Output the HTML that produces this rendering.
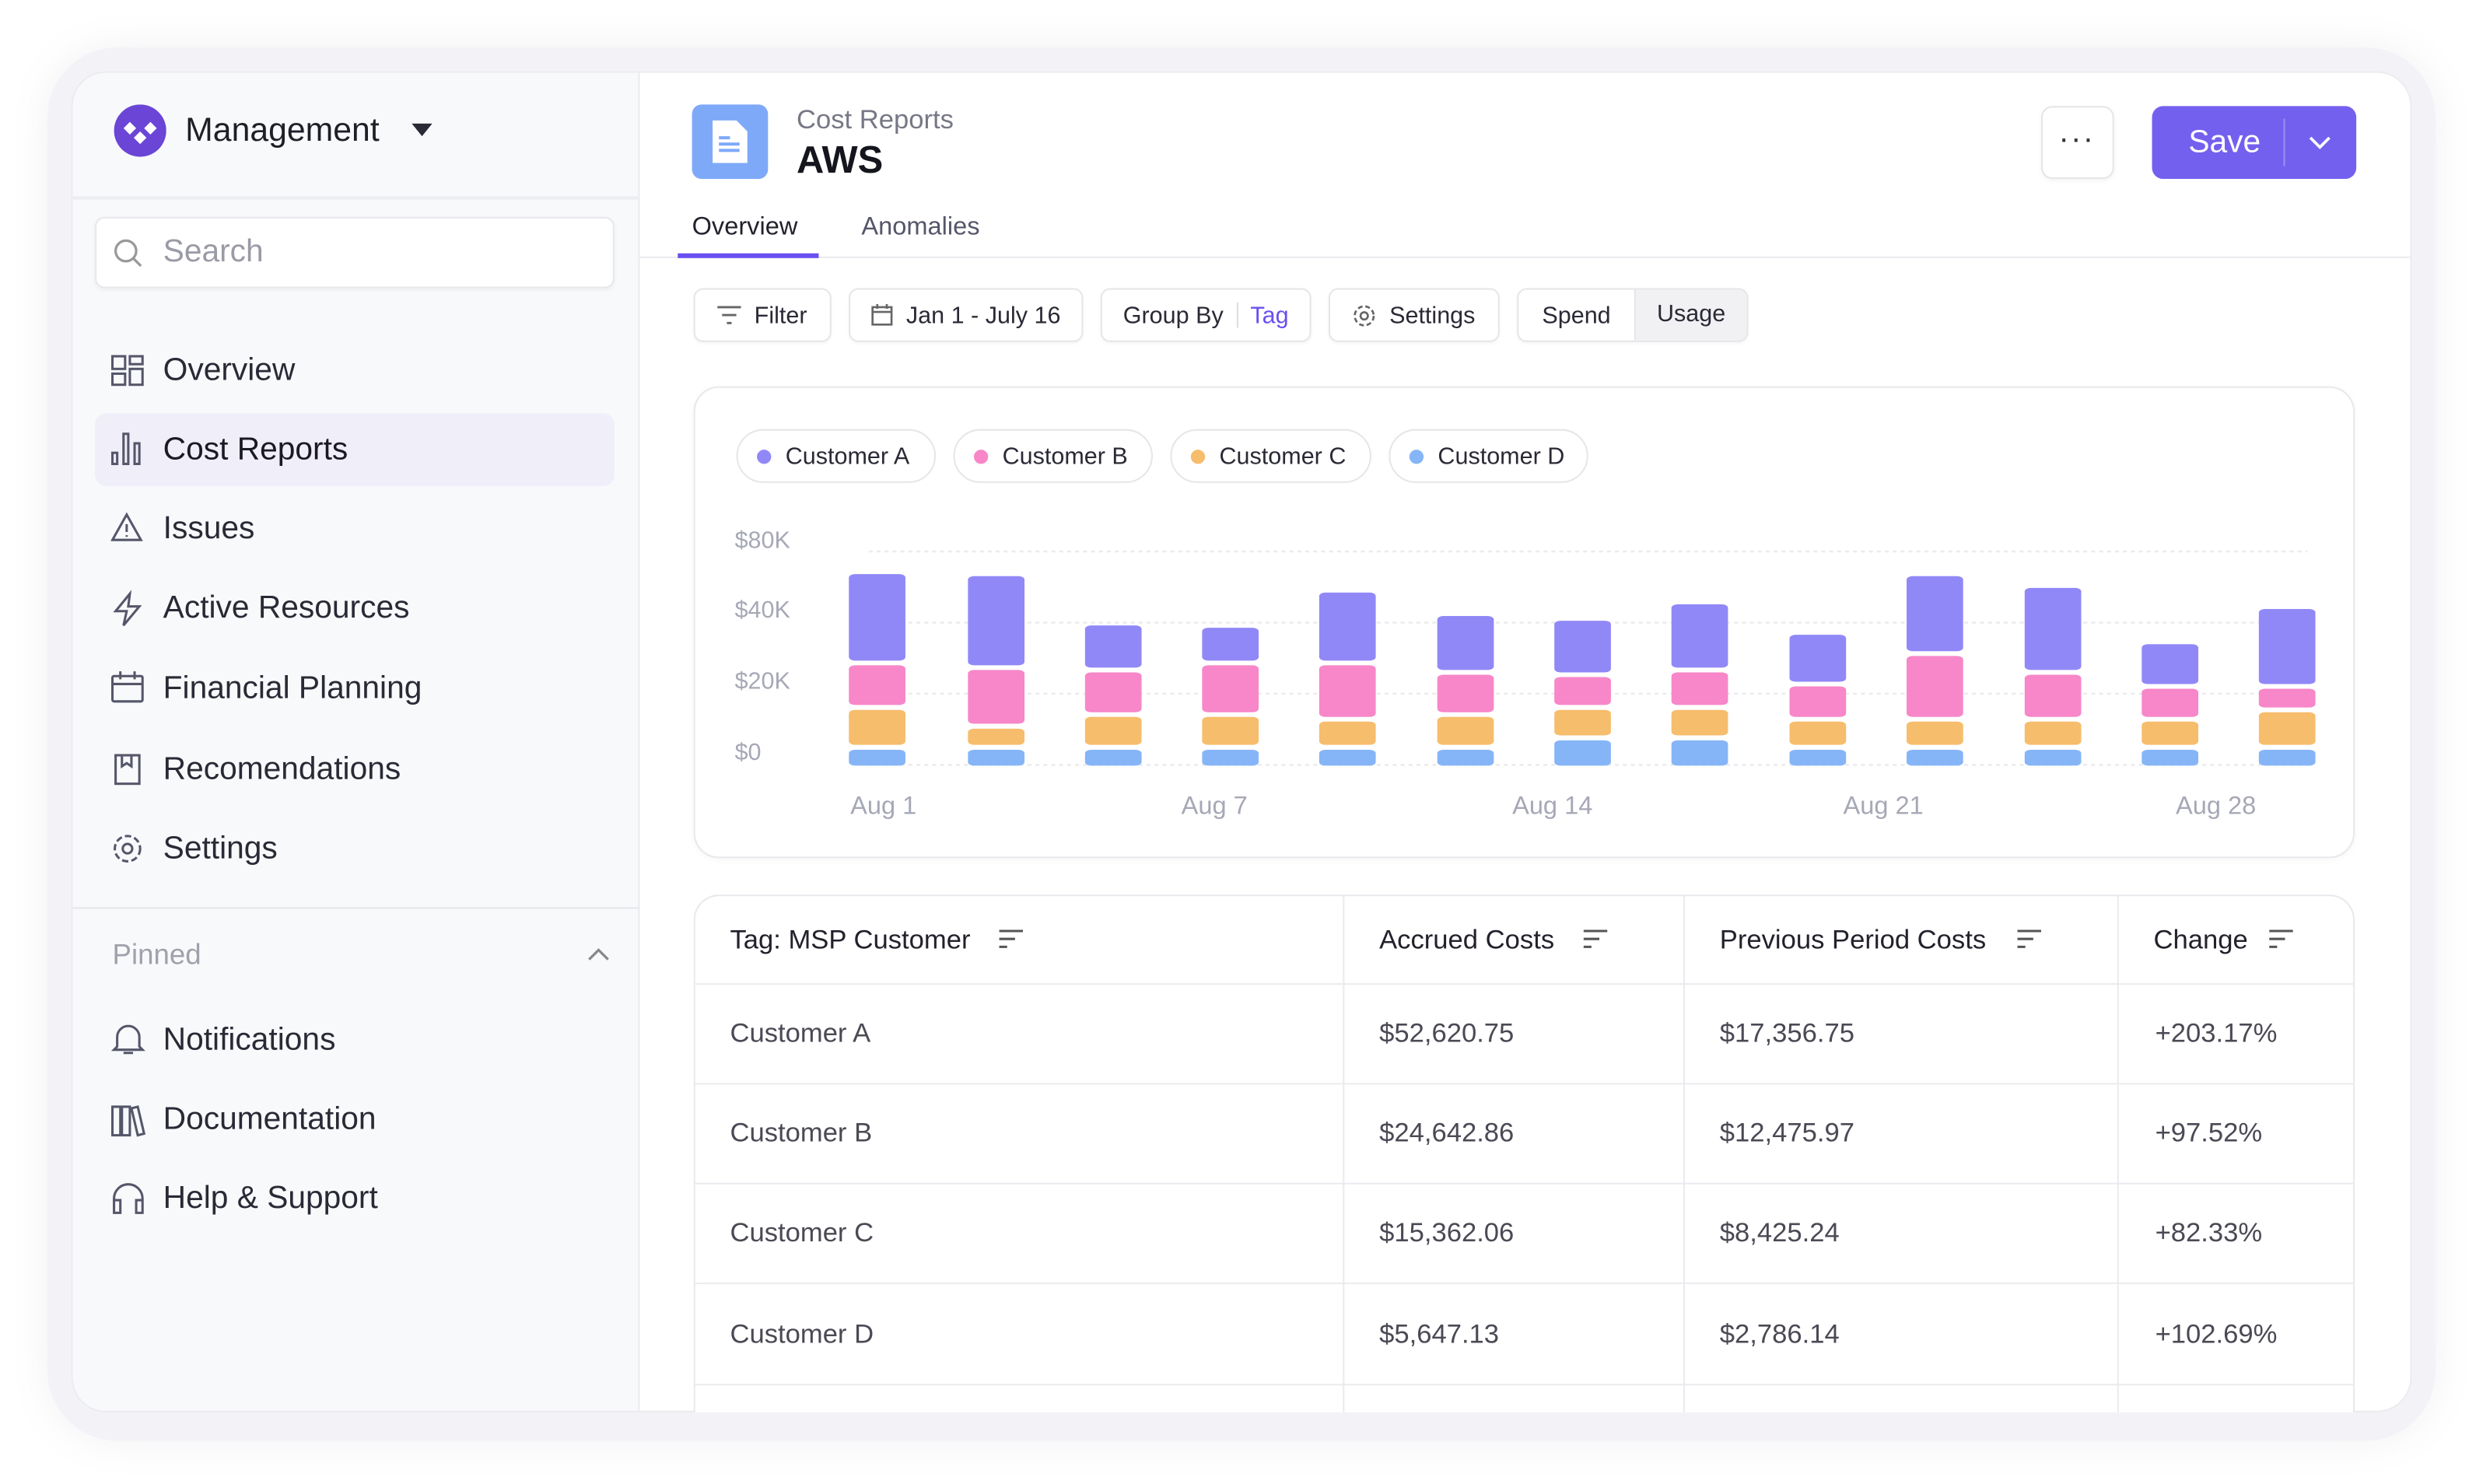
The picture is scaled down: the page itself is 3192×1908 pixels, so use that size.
<!DOCTYPE html>
<html><head><meta charset="utf-8">
<style>
*{box-sizing:border-box;margin:0;padding:0}
html,body{width:3192px;height:1908px;overflow:hidden;background:#fff;font-family:"Liberation Sans",sans-serif}
#w{position:absolute;left:0;top:0;width:1568px;height:937.3px;transform:scale(2.0357);transform-origin:0 0}
.a{position:absolute}
.t{position:absolute;white-space:nowrap;line-height:1}
.nav{font-size:20px;color:#2a2a36}
.btn{position:absolute;background:#fff;border:1px solid #e6e6ea;border-radius:6px;font-size:15px;color:#2a2a36;display:flex;align-items:center;justify-content:center;gap:8px;box-shadow:0 1px 2px rgba(0,0,0,.04)}
.pill{position:absolute;top:271px;height:34px;border:1px solid #e6e6ea;border-radius:17px;font-size:15px;color:#2a2a36;display:flex;align-items:center;padding-left:12px;gap:9px}
.dot{width:9px;height:9px;border-radius:50%}
.hd{font-size:17px;color:#22222c}
.td{font-size:17px;color:#4a4a55}
.ax{font-size:15px;color:#a6a8b6}
</style></head><body>
<div id="w">
<div class="a" style="left:30px;top:30px;width:1508px;height:880px;border-radius:44px;background:#f3f3f7;box-shadow:0 0 24px rgba(120,120,150,.10)"></div>
<div class="a" style="left:45px;top:45px;width:1478px;height:847px;border-radius:22px;background:#fff;overflow:hidden;border:1px solid #ececf0">
 <div class="a" style="left:0;top:0;width:358px;height:847px;background:#f8f9fb;border-right:1px solid #ebebef"></div>
 <div class="a" style="left:0;top:78px;width:358px;height:2px;background:#ededf1"></div>
 <div class="a" style="left:0;top:527px;width:358px;height:1px;background:#e6e6ea"></div>
 <div class="a" style="left:358px;top:116px;width:1120px;height:1px;background:#ebebef"></div>
</div>
<!-- sidebar -->
<svg class="a" style="left:72px;top:66px" width="33" height="33" viewBox="0 0 33 33"><circle cx="16.5" cy="16.5" r="16.5" fill="#6a45d6"/><path d="M10 11l4 4-4 4-4-4z M23 11l4 4-4 4-4-4z M16.5 17l4 4-4 4-4-4z" fill="#fff"/></svg>
<div class="t" style="left:117px;top:72px;font-size:21px;color:#1f1f28">Management</div>
<svg class="a" style="left:260px;top:78px" width="13" height="8"><path d="M0 0h13L6.5 8z" fill="#2a2a36"/></svg>
<div class="a" style="left:60px;top:137px;width:328px;height:45px;background:#fff;border:1px solid #e8e8ec;border-radius:6px;box-shadow:0 1px 3px rgba(0,0,0,.05)"></div>
<svg class="a" style="left:71px;top:150px" width="20" height="20" fill="none" stroke="#999" stroke-width="1.6"><circle cx="8.5" cy="8.5" r="6.5"/><path d="M13 13l5 5"/></svg>
<div class="t" style="left:103px;top:149px;font-size:20px;color:#9a9ba6">Search</div>
<div class="a" style="left:60px;top:261px;width:328px;height:46px;background:#efeef9;border-radius:7px"></div>
<svg class="a" style="left:70px;top:224px" width="22" height="340" fill="none" stroke="#55566a" stroke-width="1.5">
 <rect x="1" y="1" width="8" height="8"/><rect x="12" y="1" width="8" height="5"/><rect x="1" y="12" width="8" height="7"/><rect x="12" y="9" width="8" height="10"/>
 <rect x="1" y="62" width="3" height="7"/><rect x="8" y="50" width="3" height="19"/><rect x="15" y="56" width="3" height="13"/>
 <path d="M10 101l9 16H1z M10 107v5 M10 114v1"/>
 <path d="M12 151l-9 11h7l-2 9 10-12h-7z"/>
 <rect x="1" y="203" width="19" height="16" rx="1"/><path d="M1 208h19 M6 200v5 M15 200v5"/>
 <rect x="3" y="253" width="15" height="18"/><path d="M7 253v7l3-2 3 2v-7"/>
 <circle cx="10.5" cy="312" r="3"/><circle cx="10.5" cy="312" r="8" stroke-dasharray="4 2"/>
</svg>
<div class="t nav" style="left:103px;top:224px">Overview</div>
<div class="t nav" style="left:103px;top:274px;color:#1a1a24">Cost Reports</div>
<div class="t nav" style="left:103px;top:324px">Issues</div>
<div class="t nav" style="left:103px;top:374px">Active Resources</div>
<div class="t nav" style="left:103px;top:425px">Financial Planning</div>
<div class="t nav" style="left:103px;top:476px">Recomendations</div>
<div class="t nav" style="left:103px;top:526px">Settings</div>
<div class="t" style="left:71px;top:594px;font-size:18px;color:#a0a1ac">Pinned</div>
<svg class="a" style="left:371px;top:598px" width="14" height="9" fill="none" stroke="#888" stroke-width="1.6"><path d="M1 8l6-6 6 6"/></svg>
<svg class="a" style="left:70px;top:645px" width="22" height="125" fill="none" stroke="#55566a" stroke-width="1.5">
 <path d="M4 16V10a7 7 0 0114 0v6l2 2H2z M8 20h6"/>
 <path d="M1 54h5v18H1z M7 54h5v18H7z M13 55l4-1 4 17-4 1z"/>
 <path d="M2 118v-6a9 9 0 0118 0v6 M2 113h4v8H2z M16 113h4v8h-4z"/>
</svg>
<div class="t nav" style="left:103px;top:647px">Notifications</div>
<div class="t nav" style="left:103px;top:697px">Documentation</div>
<div class="t nav" style="left:103px;top:747px">Help &amp; Support</div>
<!-- header -->
<div class="a" style="left:437px;top:66px;width:48px;height:47px;background:#7ea9f9;border-radius:6px"></div>
<svg class="a" style="left:450px;top:76px" width="22" height="27"><path d="M0 0h15l7 7v20H0z" fill="#fff"/><path d="M4 11h7M4 15h13M4 19h13" stroke="#7ea9f9" stroke-width="2"/></svg>
<div class="t" style="left:503px;top:67px;font-size:17px;color:#777885">Cost Reports</div>
<div class="t" style="left:503px;top:90px;font-size:24px;font-weight:bold;color:#15151e">AWS</div>
<div class="a" style="left:1289px;top:67px;width:46px;height:46px;border:1px solid #e6e6ea;border-radius:7px;background:#fff;box-shadow:0 1px 3px rgba(0,0,0,.05)"></div>
<div class="t" style="left:1300px;top:78px;font-size:20px;color:#333;letter-spacing:1px">···</div>
<div class="a" style="left:1359px;top:67px;width:129px;height:46px;background:#7460ee;border-radius:7px"></div>
<div class="t" style="left:1382px;top:80px;font-size:20px;color:#fff">Save</div>
<div class="a" style="left:1442px;top:75px;width:1px;height:30px;background:#9d8ff4"></div>
<svg class="a" style="left:1458px;top:86px" width="14" height="9" fill="none" stroke="#fff" stroke-width="1.8"><path d="M1 1l6 6 6-6"/></svg>
<div class="t" style="left:437px;top:136px;font-size:16px;color:#22222c">Overview</div>
<div class="a" style="left:428px;top:160px;width:89px;height:3px;background:#6a4ff0"></div>
<div class="t" style="left:544px;top:136px;font-size:16px;color:#55566a">Anomalies</div>
<!-- toolbar -->
<div class="btn" style="left:438px;top:182px;width:87px;height:34px"><svg width="15" height="12" fill="none" stroke="#666" stroke-width="1.4"><path d="M0 1h15M3 6h9M6 11h3"/></svg>Filter</div>
<div class="btn" style="left:536px;top:182px;width:148px;height:34px"><svg width="14" height="14" fill="none" stroke="#666" stroke-width="1.3"><rect x="1" y="2" width="12" height="11"/><path d="M1 5h12M4 0v3M10 0v3"/></svg>Jan 1 - July 16</div>
<div class="btn" style="left:695px;top:182px;width:133px;height:34px">Group By <span style="width:1px;height:16px;background:#ddd"></span><span style="color:#6a4ff0">Tag</span></div>
<div class="btn" style="left:839px;top:182px;width:108px;height:34px"><svg width="15" height="15" fill="none" stroke="#666" stroke-width="1.3"><circle cx="7.5" cy="7.5" r="2.3"/><circle cx="7.5" cy="7.5" r="6" stroke-dasharray="3 1.8"/></svg>Settings</div>
<div class="btn" style="left:958px;top:182px;width:146px;height:34px;justify-content:flex-start;gap:0;overflow:hidden"><span style="width:74px;text-align:center">Spend</span><span style="width:72px;height:34px;line-height:34px;text-align:center;background:#f1f1f4;border-left:1px solid #e6e6ea">Usage</span></div>
<!-- chart card -->
<div class="a" style="left:438px;top:244px;width:1049px;height:298px;border:1px solid #e8e8ed;border-radius:16px;background:#fff;box-shadow:0 1px 4px rgba(0,0,0,.04)"></div>
<div class="pill" style="left:465px;width:126px"><span class="dot" style="background:#9188f7"></span>Customer A</div>
<div class="pill" style="left:602px;width:126px"><span class="dot" style="background:#f787c8"></span>Customer B</div>
<div class="pill" style="left:739px;width:127px"><span class="dot" style="background:#f6bd6c"></span>Customer C</div>
<div class="pill" style="left:877px;width:126px"><span class="dot" style="background:#86b5f7"></span>Customer D</div>
<div class="t ax" style="left:464px;top:334px">$80K</div>
<div class="t ax" style="left:464px;top:378px">$40K</div>
<div class="t ax" style="left:464px;top:423px">$20K</div>
<div class="t ax" style="left:464px;top:468px">$0</div>
<div class="t ax" style="left:537px;top:502px;font-size:16px">Aug 1</div>
<div class="t ax" style="left:746px;top:502px;font-size:16px">Aug 7</div>
<div class="t ax" style="left:955px;top:502px;font-size:16px">Aug 14</div>
<div class="t ax" style="left:1164px;top:502px;font-size:16px">Aug 21</div>
<div class="t ax" style="left:1374px;top:502px;font-size:16px">Aug 28</div>
<svg class="a" style="left:510.9px;top:314.4px" width="982.5" height="206.3" viewBox="0 0 1568 1253" preserveAspectRatio="none" id="ch"></svg>
<!-- table -->
<div class="a" style="left:438px;top:565px;width:1049px;height:327px;border:1px solid #e8e8ed;border-bottom:none;border-radius:16px 16px 0 0;background:#fff"></div>
<div class="a" style="left:439px;top:621px;width:1047px;height:1px;background:#ebebef"></div>
<div class="a" style="left:439px;top:684px;width:1047px;height:1px;background:#ebebef"></div>
<div class="a" style="left:439px;top:747px;width:1047px;height:1px;background:#ebebef"></div>
<div class="a" style="left:439px;top:810px;width:1047px;height:1px;background:#ebebef"></div>
<div class="a" style="left:439px;top:874px;width:1047px;height:1px;background:#ebebef"></div>
<div class="a" style="left:848px;top:566px;width:1px;height:326px;background:#ebebef"></div>
<div class="a" style="left:1063px;top:566px;width:1px;height:326px;background:#ebebef"></div>
<div class="a" style="left:1337px;top:566px;width:1px;height:326px;background:#ebebef"></div>
<div class="t hd" style="left:461px;top:585px">Tag: MSP Customer</div>
<div class="t hd" style="left:871px;top:585px">Accrued Costs</div>
<div class="t hd" style="left:1086px;top:585px">Previous Period Costs</div>
<div class="t hd" style="left:1360px;top:585px">Change</div>
<svg class="a" style="left:631px;top:587px" width="16" height="12" stroke="#555" stroke-width="1.5"><path d="M0 1h15M0 6h10M0 11h5"/></svg>
<svg class="a" style="left:1000px;top:587px" width="16" height="12" stroke="#555" stroke-width="1.5"><path d="M0 1h15M0 6h10M0 11h5"/></svg>
<svg class="a" style="left:1274px;top:587px" width="16" height="12" stroke="#555" stroke-width="1.5"><path d="M0 1h15M0 6h10M0 11h5"/></svg>
<svg class="a" style="left:1433px;top:587px" width="16" height="12" stroke="#555" stroke-width="1.5"><path d="M0 1h15M0 6h10M0 11h5"/></svg>
<div class="t td" style="left:461px;top:644px">Customer A</div><div class="t td" style="left:871px;top:644px">$52,620.75</div><div class="t td" style="left:1086px;top:644px">$17,356.75</div><div class="t td" style="left:1361px;top:644px">+203.17%</div>
<div class="t td" style="left:461px;top:707px">Customer B</div><div class="t td" style="left:871px;top:707px">$24,642.86</div><div class="t td" style="left:1086px;top:707px">$12,475.97</div><div class="t td" style="left:1361px;top:707px">+97.52%</div>
<div class="t td" style="left:461px;top:770px">Customer C</div><div class="t td" style="left:871px;top:770px">$15,362.06</div><div class="t td" style="left:1086px;top:770px">$8,425.24</div><div class="t td" style="left:1361px;top:770px">+82.33%</div>
<div class="t td" style="left:461px;top:834px">Customer D</div><div class="t td" style="left:871px;top:834px">$5,647.13</div><div class="t td" style="left:1086px;top:834px">$2,786.14</div><div class="t td" style="left:1361px;top:834px">+102.69%</div>
</div>
<script>
var xs=[40,160,278,396,514,633,751,869,988,1106,1225,1343,1461];
var d=[[295,627,645,797,816,950,969],[303,645,663,869,888,950,969],[492,654,672,825,843,950,969],[501,627,645,825,843,950,969],[366,627,645,843,861,950,969],[456,663,681,825,843,950,969],[474,672,690,797,816,914,933],[411,654,672,797,816,914,933],[528,708,726,843,861,950,969],[303,591,609,843,861,950,969],[348,663,681,843,861,950,969],[564,717,735,843,861,950,969],[429,717,735,807,825,950,969]];
var c=['#9188f7','#f787c8','#f6bd6c','#86b5f7'];
var s='';
[208,481,754,1027].forEach(function(y){s+='<line x1="60" x2="1510" y1="'+y+'" y2="'+y+'" stroke="#ececf0" stroke-width="8" stroke-dasharray="4 4"/>';});
d.forEach(function(b,i){var x=xs[i];var seg=[[b[0],b[1]],[b[2],b[3]],[b[4],b[5]],[b[6],1030]];
seg.forEach(function(g,j){s+='<rect x="'+x+'" y="'+g[0]+'" width="57" height="'+(g[1]-g[0])+'" rx="6" ry="14" fill="'+c[j]+'"/>';});});
document.getElementById('ch').innerHTML=s;
</script>
</body></html>
